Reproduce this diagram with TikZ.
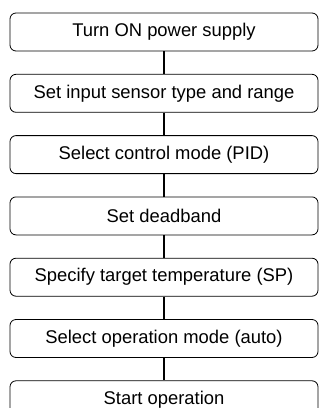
\documentclass[tikz,border=0pt]{standalone}
\usepackage{fontspec}
\setmainfont{Liberation Sans}
\usetikzlibrary{positioning}
\tikzset{
  stepbox/.style={draw, line width=0.8pt, rounded corners=6pt, minimum width=308pt,
    minimum height=38pt, inner sep=0pt, font=\fontsize{18.4}{21}\selectfont},
  link/.style={line width=2pt}
}
\begin{document}
\begin{tikzpicture}[x=1pt, y=1pt, node distance=22.5pt]
    \useasboundingbox (0,0) rectangle (320,-408);
    \node [stepbox] (supply) at (164,-32) {Turn ON power supply};
    \node [stepbox, below=of supply] (sensor) {Set input sensor type and range};
    \node [stepbox, below=of sensor] (mode) {Select control mode (PID)};
    \node [stepbox, below=of mode] (deadband) {Set deadband};
    \node [stepbox, below=of deadband] (target) {Specify target temperature (SP)};
    \node [stepbox, below=of target] (operation) {Select operation mode (auto)};
    \node [stepbox, below=of operation] (start) {Start operation};
    \draw [link] (supply) -- (sensor);
    \draw [link] (sensor) -- (mode);
    \draw [link] (mode) -- (deadband);
    \draw [link] (deadband) -- (target);
    \draw [link] (target) -- (operation);
    \draw [link] (operation) -- (start);
\end{tikzpicture}
\end{document}
